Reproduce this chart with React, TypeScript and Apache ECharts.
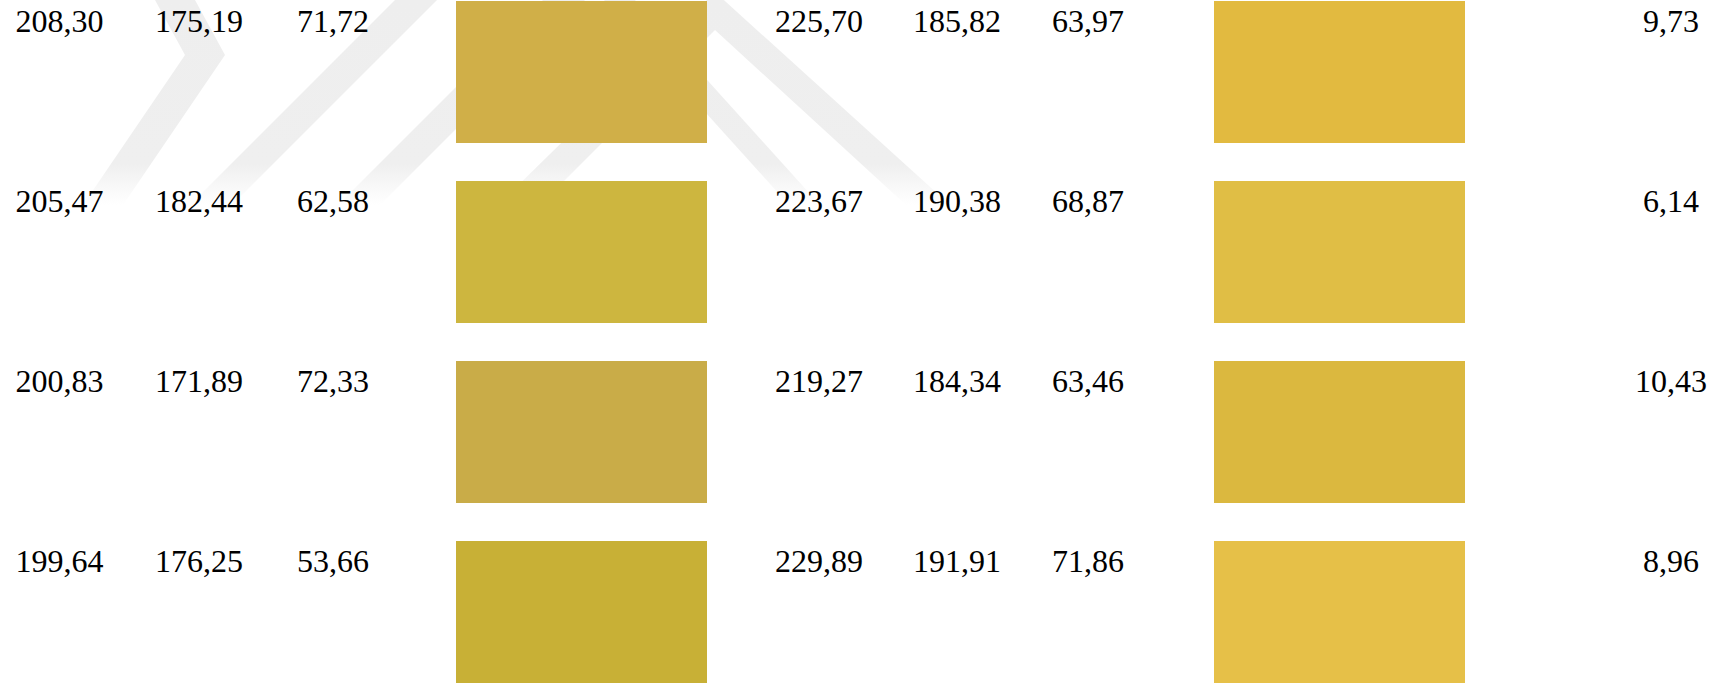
import React, { useEffect, useRef } from "react";
import * as echarts from "echarts";

// ---- data ----
const rowIds = [0, 1, 2, 3];
const sample1R = [208.3, 205.47, 200.83, 199.64];
const sample1G = [175.19, 182.44, 171.89, 176.25];
const sample1B = [71.72, 62.58, 72.33, 53.66];
const sample2R = [225.7, 223.67, 219.27, 229.89];
const sample2G = [185.82, 190.38, 184.34, 191.91];
const sample2B = [63.97, 68.87, 63.46, 71.86];
const deltaE = [9.73, 6.14, 10.43, 8.96];

// ---- layout ----
const W = 1729;
const H = 685;
const COL = {
  r1: 15.5,
  g1: 155,
  b1: 297,
  sw1: 456,
  r2: 775,
  g2: 913,
  b2: 1052,
  sw2: 1214,
  de: 1671,
};
const SW_W = 251;
const ROW_PX = 180;
const GRID_TOP = 1;
const SW_H = 142 / ROW_PX;
const TEXT_DY = 20 / ROW_PX;
const FONT = '"Liberation Serif", "Times New Roman", serif';

const fmt = (v: number) => v.toFixed(2).replace(".", ",");
const rgb = (r: number, g: number, b: number) =>
  `rgb(${Math.round(r)},${Math.round(g)},${Math.round(b)})`;

// watermark polygons (decorative background)
const watermark: number[][][] = [
  [[155, 0], [195, 0], [225, 55], [123, 205], [83, 205], [185, 55]],
  [[190, 205], [232, 205], [437, 0], [395, 0]],
  [[338, 205], [380, 205], [585, 0], [543, 0]],
  [[604, 0], [635, 0], [820, 205], [789, 205]],
  [[498, 205], [715, -8], [950, 205], [906, 205], [715, 30], [540, 205]],
];

export default function App() {
  const ref = useRef<HTMLDivElement>(null);

  useEffect(() => {
    if (!ref.current) return;
    const chart = echarts.init(ref.current, undefined, { renderer: "svg" });

    const fade = new echarts.graphic.LinearGradient(
      0,
      0,
      0,
      205,
      [
        { offset: 0, color: "#eeeeee" },
        { offset: 0.8, color: "#efefef" },
        { offset: 1, color: "rgba(240,240,240,0)" },
      ],
      true
    );

    const text = (x: number, y: number, s: string, align: string) => ({
      type: "text",
      x,
      y,
      style: {
        text: s,
        fill: "#000",
        fontSize: 32,
        fontFamily: FONT,
        align,
        verticalAlign: "middle",
      },
    });

    const gridH = H - GRID_TOP;
    const option: any = {
      animation: false,
      backgroundColor: "#fff",
      grid: { left: 0, right: 0, top: GRID_TOP, bottom: 0 },
      xAxis: { type: "value", min: 0, max: W, show: false },
      yAxis: {
        type: "value",
        min: 0,
        max: gridH / ROW_PX,
        inverse: true,
        show: false,
      },
      graphic: watermark.map((pts) => ({
        type: "polygon",
        z: 0,
        silent: true,
        shape: { points: pts },
        style: { fill: fade },
      })),
      series: [
        {
          type: "custom",
          z: 2,
          clip: false,
          silent: true,
          encode: { x: 0, y: 1 },
          data: rowIds.map((i) => [0, i]),
          renderItem: (params: any, api: any) => {
            const i = params.dataIndex;
            const row = api.value(1);
            const top = api.coord([0, row])[1];
            const unit = api.size([0, 1])[1];
            const xs = (v: number) => api.coord([v, row])[0];
            const swW = api.size([SW_W, 0])[0];
            const ty = top + unit * TEXT_DY;
            return {
              type: "group",
              children: [
                {
                  type: "rect",
                  shape: { x: xs(COL.sw1), y: top, width: swW, height: unit * SW_H },
                  style: { fill: rgb(sample1R[i], sample1G[i], sample1B[i]) },
                },
                {
                  type: "rect",
                  shape: { x: xs(COL.sw2), y: top, width: swW, height: unit * SW_H },
                  style: { fill: rgb(sample2R[i], sample2G[i], sample2B[i]) },
                },
                text(xs(COL.r1), ty, fmt(sample1R[i]), "left"),
                text(xs(COL.g1), ty, fmt(sample1G[i]), "left"),
                text(xs(COL.b1), ty, fmt(sample1B[i]), "left"),
                text(xs(COL.r2), ty, fmt(sample2R[i]), "left"),
                text(xs(COL.g2), ty, fmt(sample2G[i]), "left"),
                text(xs(COL.b2), ty, fmt(sample2B[i]), "left"),
                text(xs(COL.de), ty, fmt(deltaE[i]), "center"),
              ],
            };
          },
        },
      ],
    };

    chart.setOption(option);
    return () => chart.dispose();
  }, []);

  return (
    <div
      ref={ref}
      style={{ position: "absolute", left: 0, top: 0, width: W, height: H }}
    />
  );
}
